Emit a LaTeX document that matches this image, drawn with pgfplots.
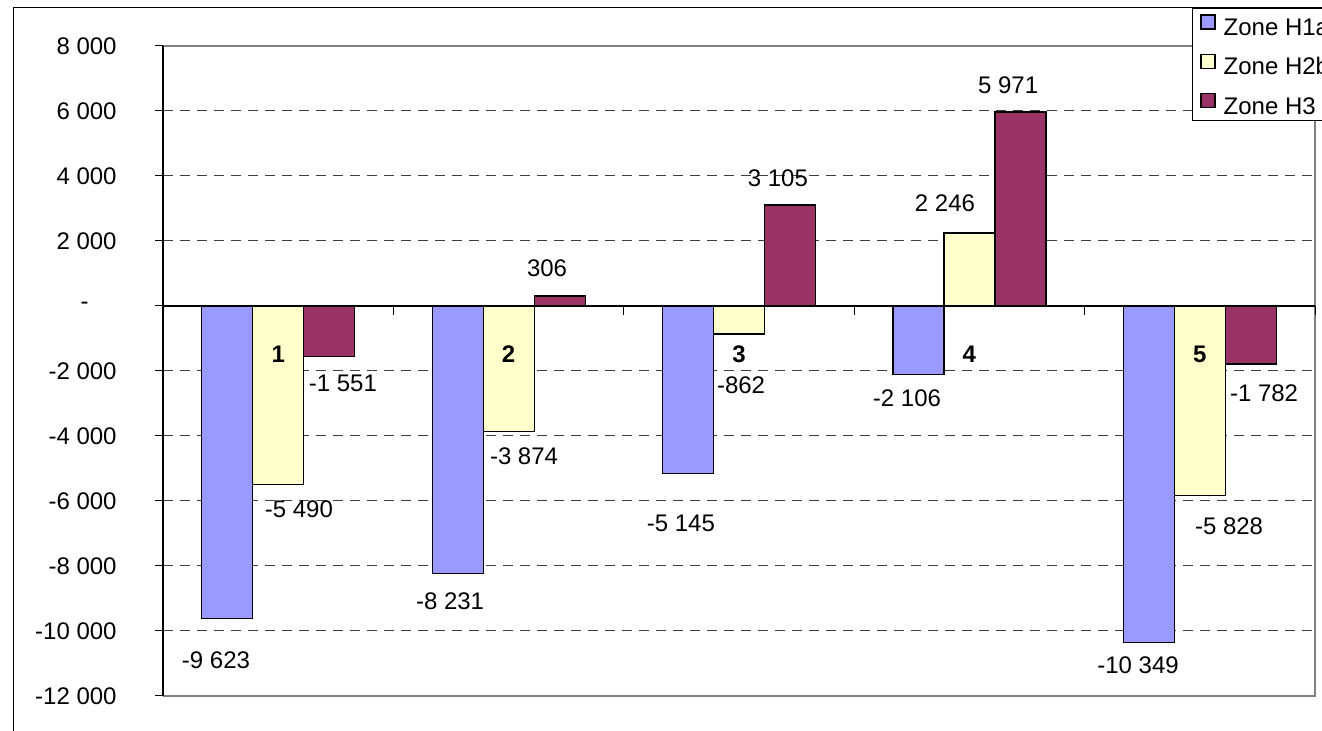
\documentclass[border=0pt]{standalone}
\usepackage{pgfplots}
\pgfplotsset{compat=1.18}
\usepackage{fontspec}
\setmainfont{Liberation Sans}
\definecolor{cA}{HTML}{9999FF}
\definecolor{cB}{HTML}{FFFFCC}
\definecolor{cC}{HTML}{993366}
\newcommand{\lf}{\fontsize{12}{14}\selectfont}
\begin{document}
\begin{tikzpicture}
\useasboundingbox (0,0) rectangle (661pt,365.5pt);
\clip (0,0) rectangle (661pt,365.5pt);
\begin{axis}[
  at={(81.5pt,17.5pt)}, anchor=south west,
  scale only axis, width=576pt, height=325pt,
  xmin=0.5, xmax=5.5, ymin=-12000, ymax=8000,
  axis line style={draw=none},
  xtick=\empty,
  scaled y ticks=false,
  ytick={-12000,-10000,-8000,-6000,-4000,-2000,0,2000,4000,6000,8000},
  yticklabels={-12 000,-10 000,-8 000,-6 000,-4 000,-2 000,{-\hspace*{14pt}},2 000,4 000,6 000,8 000},
  ytick pos=left, tick align=outside, major tick length=4pt,
  tick style={black, line width=0.5pt},
  yticklabel style={font=\lf, inner sep=0pt, xshift=-19pt},
  ymajorgrids, grid style={black!75, line width=0.5pt, dash pattern=on 5pt off 3.5pt},
  ybar=0pt, bar width=25.5pt,
  clip=false,
  legend style={draw=black, line width=0.5pt, fill=white, at={(rel axis cs:0.8932,1.0585)}, anchor=north west,
    font=\lf, inner xsep=4pt, inner ysep=3pt, row sep=9pt, column sep=4pt,
    nodes={inner sep=0pt, text height=9pt, text depth=0pt}},
  legend cell align=left,
  legend image code/.code={\draw[#1, line width=0.6pt] (0pt,-1.2pt) rectangle (7pt,5.8pt);},
]
\addplot[fill=cA, draw=black, line width=0.6pt] coordinates {(1,-9623) (2,-8231) (3,-5145) (4,-2106) (5,-10349)};
\addlegendentry{Zone H1a}
\addplot[fill=cB, draw=black, line width=0.6pt] coordinates {(1,-5490) (2,-3874) (3,-862) (4,2246) (5,-5828)};
\addlegendentry{Zone H2b}
\addplot[fill=cC, draw=black, line width=0.6pt] coordinates {(1,-1551) (2,306) (3,3105) (4,5971) (5,-1782)};
\addlegendentry{Zone H3}
% plot area border
\draw[gray, line width=0.7pt] (rel axis cs:0,1) -- (rel axis cs:1,1) -- (rel axis cs:1,0) -- (rel axis cs:0,0);
\draw[black, line width=0.6pt] (rel axis cs:0,0) -- (rel axis cs:0,1);
% zero line with category ticks
\draw[black, line width=0.6pt] (axis cs:0.5,0) -- (axis cs:5.5,0);
\pgfplotsinvokeforeach{0.5,1.5,2.5,3.5,4.5,5.5}{\draw[black, line width=0.5pt] (axis cs:#1,0) -- ++(0pt,-4.5pt);}
% category labels
\pgfplotsinvokeforeach{1,2,3,4,5}{\node[font=\lf\bfseries] at (axis cs:#1,-1480) {#1};}
% data labels
\node[font=\lf] at (axis cs:0.730,-10892) {-9 623};
\node[font=\lf] at (axis cs:1.090,-6246) {-5 490};
\node[font=\lf] at (axis cs:1.281,-2369) {-1 551};
\node[font=\lf] at (axis cs:1.746,-9077) {-8 231};
\node[font=\lf] at (axis cs:2.067,-4615) {-3 874};
\node[font=\lf] at (axis cs:2.167,1169) {306};
\node[font=\lf] at (axis cs:2.748,-6677) {-5 145};
\node[font=\lf] at (axis cs:3.009,-2431) {-862};
\node[font=\lf] at (axis cs:3.169,3938) {3 105};
\node[font=\lf] at (axis cs:3.729,-2831) {-2 106};
\node[font=\lf] at (axis cs:3.894,3169) {2 246};
\node[font=\lf] at (axis cs:4.168,6800) {5 971};
\node[font=\lf] at (axis cs:4.732,-11046) {-10 349};
\node[font=\lf] at (axis cs:5.127,-6769) {-5 828};
\node[font=\lf] at (axis cs:5.279,-2677) {-1 782};
\end{axis}
\draw[black, line width=0.5pt] (6.5pt,-5pt) -- (6.5pt,361.5pt) -- (700pt,361.5pt);
\end{tikzpicture}
\end{document}
